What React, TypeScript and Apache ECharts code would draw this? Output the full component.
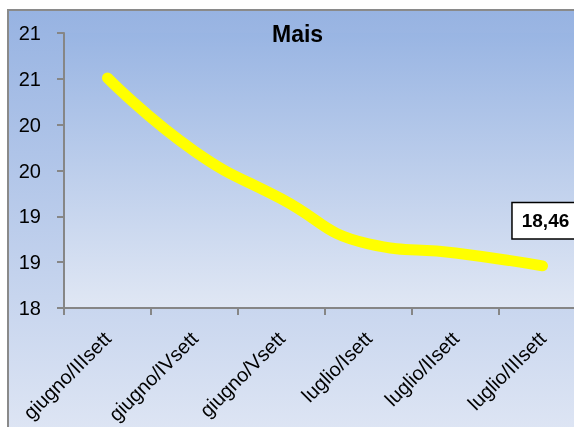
import React, { useEffect, useRef } from "react";
import * as echarts from "echarts";

const categories = ["giugno/IIIsett", "giugno/IVsett", "giugno/Vsett", "luglio/Isett", "luglio/IIsett", "luglio/IIIsett"];
const values = [20.51, 19.71, 19.19, 18.7, 18.6, 18.46];
const titleText = "Mais";
const yMin = 18;
const yMax = 21;
const yInterval = 0.5;

const FONT = "Liberation Sans, Arial, sans-serif";

export default function App() {
  const ref = useRef<HTMLDivElement>(null);
  useEffect(() => {
    if (!ref.current) return;
    const chart = echarts.init(ref.current, null, { renderer: "svg" });
    const lastIdx = values.length - 1;
    chart.setOption({
      animation: false,
      graphic: [
        {
          type: "rect",
          z: -10,
          silent: true,
          shape: { x: 8, y: 10, width: 600, height: 430 },
          style: {
            fill: new echarts.graphic.LinearGradient(0, 0, 0, 1, [
              { offset: 0, color: "#97b3e2" },
              { offset: 1, color: "#dfe6f4" },
            ]),
            stroke: "#8a8a8a",
            lineWidth: 2,
          },
        },
      ],
      title: {
        text: titleText,
        left: 272,
        top: 22,
        padding: 0,
        textStyle: { fontFamily: FONT, fontWeight: "bold", fontSize: 23, color: "#000" },
      },
      grid: {
        left: 64,
        top: 33,
        width: 522,
        height: 275,
        show: true,
        borderWidth: 0,
        backgroundColor: new echarts.graphic.LinearGradient(0, 0, 0, 1, [
          { offset: 0, color: "#99b5e3" },
          { offset: 1, color: "#e0e7f4" },
        ]),
      },
      xAxis: {
        type: "category",
        data: categories,
        boundaryGap: true,
        axisLine: { lineStyle: { color: "#868686", width: 2 } },
        axisTick: { show: true, length: 7, lineStyle: { color: "#868686", width: 2 } },
        axisLabel: {
          interval: 0,
          rotate: 45,
          margin: 27,
          fontFamily: FONT,
          fontSize: 20,
          color: "#000",
        },
        splitLine: { show: false },
      },
      yAxis: {
        type: "value",
        min: yMin,
        max: yMax,
        interval: yInterval,
        axisLine: { show: true, lineStyle: { color: "#868686", width: 2 } },
        axisTick: { show: true, length: 7, lineStyle: { color: "#868686", width: 2 } },
        axisLabel: {
          margin: 23,
          fontFamily: FONT,
          fontSize: 20,
          color: "#000",
          formatter: (v: number) => String(Math.round(v)),
        },
        splitLine: { show: false },
      },
      series: [
        {
          type: "line",
          smooth: 0.5,
          symbol: "circle",
          symbolSize: 1,
          itemStyle: { color: "#ffff00" },
          lineStyle: { color: "#ffff00", width: 11, cap: "round", join: "round" },
          data: values.map((v, i) =>
            i === lastIdx
              ? {
                  value: v,
                  label: {
                    show: true,
                    position: "top",
                    distance: 27,
                    offset: [3, 0],
                    formatter: (p: any) => p.value.toFixed(2).replace(".", ","),
                    fontFamily: FONT,
                    fontWeight: "bold",
                    fontSize: 19,
                    color: "#000",
                    backgroundColor: "#ffffff",
                    borderColor: "#000",
                    borderWidth: 1.5,
                    padding: [8, 9, 8, 9],
                  },
                }
              : v
          ),
        },
      ],
    });
    return () => chart.dispose();
  }, []);
  return <div ref={ref} style={{ position: "fixed", left: 0, top: 0, width: 600, height: 427 }} />;
}
